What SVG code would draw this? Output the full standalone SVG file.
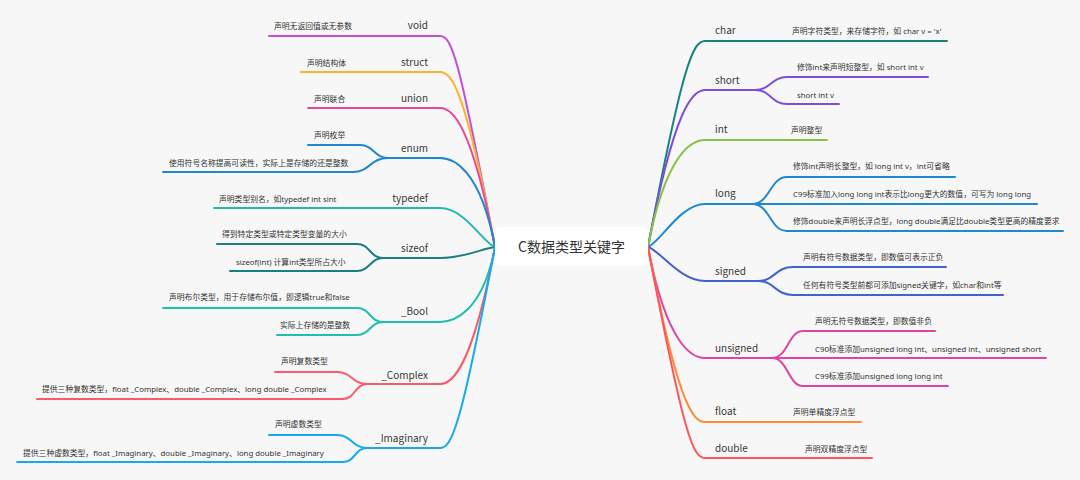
<svg xmlns="http://www.w3.org/2000/svg" width="1080" height="480" viewBox="0 0 1080 480">
<style>
.bg{fill:#f7f7f7}
.root{fill:#ffffff}
.rt{font-family:"Noto Sans CJK SC","Noto Sans",sans-serif;font-size:14px;fill:#333}
.lb{font-family:"Noto Sans CJK SC","Noto Sans",sans-serif;font-size:10px;fill:#383838}
.ch{font-family:"Noto Sans","Noto Sans CJK SC",sans-serif;font-size:7.8px;fill:#333}
.e{text-anchor:end}
path{fill:none;stroke-width:2;stroke-linecap:round}
.c1{stroke:#c34fd3}.c2{stroke:#fdb22b}.c3{stroke:#e8479b}.c4{stroke:#1f87cf}.c5{stroke:#22bba9}
.c6{stroke:#1a7f7f}.c7{stroke:#1fbfae}.c8{stroke:#fa5a6a}.c9{stroke:#15aaf0}
.r1{stroke:#168383}.r2{stroke:#7d4fd8}.r3{stroke:#86c346}.r4{stroke:#1e88d0}.r5{stroke:#4163cf}
.r6{stroke:#df45a0}.r7{stroke:#ff8b36}.r8{stroke:#ff5459}
</style>
<rect class="bg" x="0" y="0" width="1080" height="480"/>
<g id="connectors">
<path class="c1" d="M495,247 C458.9,57.1 452,36 440,36"/>
<path class="c2" d="M495,247 C465.1,89.5 452,72 440,72"/>
<path class="c3" d="M495,247 C471.2,121.9 452,108 440,108"/>
<path class="c4" d="M495,247 C479.8,166.9 452,158 440,158"/>
<path class="c5" d="M495,247 C483,243.1 465,208 440,208"/>
<path class="c6" d="M495,247 C483,248.1 465,258 440,258"/>
<path class="c7" d="M495,247 C482.2,314.5 452,322 440,322"/>
<path class="c8" d="M495,247 C471.6,370.3 452,384 440,384"/>
<path class="c9" d="M495,247 C460.6,427.9 452,448 440,448"/>
<path class="r1" d="M648,247 C683.2,61.6 693,41 705,41"/>
<path class="r2" d="M648,247 C674.8,105.7 693,90 705,90"/>
<path class="r3" d="M648,247 C666.3,150.7 693,140 705,140"/>
<path class="r4" d="M648,247 C660,242.7 680,204 705,204"/>
<path class="r5" d="M648,247 C660,250.4 680,281 705,281"/>
<path class="r6" d="M648,247 C667,346.9 693,358 705,358"/>
<path class="r7" d="M648,247 C677.9,404.5 693,422 705,422"/>
<path class="r8" d="M648,247 C684.1,436.9 693,458 705,458"/>
<path class="c4" d="M388,158 C374,158 374,145 360,145"/>
<path class="c4" d="M388,158 C370,158 370,172 353,172"/>
<path class="c6" d="M383,258 C370,258 370,244 357,244"/>
<path class="c6" d="M383,258 C370,258 370,271 357,271"/>
<path class="c7" d="M383,322 C370,322 370,308 357,308"/>
<path class="c7" d="M383,322 C370,322 370,335 357,335"/>
<path class="c8" d="M367,384 C352,384 352,372 337,372"/>
<path class="c8" d="M367,384 C355,384 355,399 343,399"/>
<path class="c9" d="M367,448 C352,448 352,435 337,435"/>
<path class="c9" d="M367,448 C355,448 355,462 343,462"/>
<path class="r2" d="M755,90 C771,90 771,77 787,77"/>
<path class="r2" d="M755,90 C771,90 771,104 787,104"/>
<path class="r4" d="M752,204 C770,204 770,177 787,177"/>
<path class="r4" d="M752,204 C770,204 770,231 787,231"/>
<path class="r5" d="M758,281 C775,281 775,267 793,267"/>
<path class="r5" d="M758,281 C775,281 775,295 793,295"/>
<path class="r6" d="M772,358 C788,358 788,331 803,331"/>
<path class="r6" d="M772,358 C788,358 788,386 803,386"/>
</g>
<g id="root">
<rect class="root" x="495" y="227" width="153" height="39" rx="5"/>
<text class="rt" x="571.5" y="252" text-anchor="middle">C数据类型关键字</text>
</g>
<g id="n-void"><path class="c1" d="M398,36 H440"/><text class="lb e" x="428" y="29">void</text></g>
<g id="n-void-1"><path class="c1" d="M269,36 H398"/><text class="ch" x="274" y="29">声明无返回值或无参数</text></g>
<g id="n-struct"><path class="c2" d="M398,72 H440"/><text class="lb e" x="428" y="66">struct</text></g>
<g id="n-struct-1"><path class="c2" d="M301,72 H398"/><text class="ch" x="307" y="66">声明结构体</text></g>
<g id="n-union"><path class="c3" d="M398,108 H440"/><text class="lb e" x="428" y="102">union</text></g>
<g id="n-union-1"><path class="c3" d="M308,108 H398"/><text class="ch" x="314" y="102">声明联合</text></g>
<g id="n-enum"><path class="c4" d="M388,158 H440"/><text class="lb e" x="428" y="152">enum</text></g>
<g id="n-enum-1"><path class="c4" d="M308,145 H360"/><text class="ch" x="314" y="138">声明枚举</text></g>
<g id="n-enum-2"><path class="c4" d="M163,172 H353"/><text class="ch" x="169" y="166">使用符号名称提高可读性，实际上是存储的还是整数</text></g>
<g id="n-typedef"><path class="c5" d="M390,208 H440"/><text class="lb e" x="428" y="202">typedef</text></g>
<g id="n-typedef-1"><path class="c5" d="M214,208 H390"/><text class="ch" x="219" y="202">声明类型别名，如typedef int sint</text></g>
<g id="n-sizeof"><path class="c6" d="M383,258 H440"/><text class="lb e" x="428" y="252">sizeof</text></g>
<g id="n-sizeof-1"><path class="c6" d="M217,244 H357"/><text class="ch" x="222" y="237">得到特定类型或特定类型变量的大小</text></g>
<g id="n-sizeof-2"><path class="c6" d="M230,271 H357"/><text class="ch" x="236" y="265">sizeof(int) 计算int类型所占大小</text></g>
<g id="n-bool"><path class="c7" d="M383,322 H440"/><text class="lb e" x="428" y="315">_Bool</text></g>
<g id="n-bool-1"><path class="c7" d="M163,308 H357"/><text class="ch" x="169" y="300">声明布尔类型，用于存储布尔值，即逻辑true和false</text></g>
<g id="n-bool-2"><path class="c7" d="M277,335 H357"/><text class="ch" x="280" y="328">实际上存储的是整数</text></g>
<g id="n-complex"><path class="c8" d="M367,384 H440"/><text class="lb e" x="428" y="379">_Complex</text></g>
<g id="n-complex-1"><path class="c8" d="M275,372 H337"/><text class="ch" x="281" y="364">声明复数类型</text></g>
<g id="n-complex-2"><path class="c8" d="M37,399 H343"/><text class="ch" x="42" y="392">提供三种复数类型，float _Complex、double _Complex、long double _Complex</text></g>
<g id="n-imaginary"><path class="c9" d="M367,448 H440"/><text class="lb e" x="428" y="442">_Imaginary</text></g>
<g id="n-imaginary-1"><path class="c9" d="M269,435 H337"/><text class="ch" x="275" y="427">声明虚数类型</text></g>
<g id="n-imaginary-2"><path class="c9" d="M17,462 H343"/><text class="ch" x="23" y="456">提供三种虚数类型，float _Imaginary、double _Imaginary、long double _Imaginary</text></g>
<g id="n-char"><path class="r1" d="M705,41 H760"/><text class="lb" x="715" y="34">char</text></g>
<g id="n-char-1"><path class="r1" d="M760,41 H947"/><text class="ch" x="792" y="34">声明字符类型，来存储字符，如 char v = 'x'</text></g>
<g id="n-short"><path class="r2" d="M705,90 H755"/><text class="lb" x="715" y="84">short</text></g>
<g id="n-short-1"><path class="r2" d="M787,77 H928"/><text class="ch" x="797" y="70">修饰int来声明短整型，如 short int v</text></g>
<g id="n-short-2"><path class="r2" d="M787,104 H839"/><text class="ch" x="797" y="98">short int v</text></g>
<g id="n-int"><path class="r3" d="M705,140 H760"/><text class="lb" x="715" y="133">int</text></g>
<g id="n-int-1"><path class="r3" d="M760,140 H827"/><text class="ch" x="791" y="133">声明整型</text></g>
<g id="n-long"><path class="r4" d="M705,204 H752"/><text class="lb" x="715" y="197">long</text></g>
<g id="n-long-1"><path class="r4" d="M787,177 H955"/><text class="ch" x="793" y="169">修饰int声明长整型，如 long int v，int可省略</text></g>
<g id="n-long-2"><path class="r4" d="M752,204 H1037"/><text class="ch" x="793" y="197">C99标准加入long long int表示比long更大的数值，可写为 long long</text></g>
<g id="n-long-3"><path class="r4" d="M787,231 H1063"/><text class="ch" x="793" y="224">修饰double来声明长浮点型，long double满足比double类型更高的精度要求</text></g>
<g id="n-signed"><path class="r5" d="M705,281 H758"/><text class="lb" x="715" y="275">signed</text></g>
<g id="n-signed-1"><path class="r5" d="M793,267 H946"/><text class="ch" x="803" y="260">声明有符号数据类型，即数值可表示正负</text></g>
<g id="n-signed-2"><path class="r5" d="M793,295 H1003"/><text class="ch" x="803" y="288">任何有符号类型前都可添加signed关键字，如char和int等</text></g>
<g id="n-unsigned"><path class="r6" d="M705,358 H772"/><text class="lb" x="715" y="352">unsigned</text></g>
<g id="n-unsigned-1"><path class="r6" d="M803,331 H935"/><text class="ch" x="815" y="324">声明无符号数据类型，即数值非负</text></g>
<g id="n-unsigned-2"><path class="r6" d="M772,358 H1046"/><text class="ch" x="815" y="352">C90标准添加unsigned long int、unsigned int、unsigned short</text></g>
<g id="n-unsigned-3"><path class="r6" d="M803,386 H948"/><text class="ch" x="815" y="379">C99标准添加unsigned long long int</text></g>
<g id="n-float"><path class="r7" d="M705,422 H760"/><text class="lb" x="715" y="415">float</text></g>
<g id="n-float-1"><path class="r7" d="M760,422 H861"/><text class="ch" x="793" y="415">声明单精度浮点型</text></g>
<g id="n-double"><path class="r8" d="M705,458 H760"/><text class="lb" x="715" y="452">double</text></g>
<g id="n-double-1"><path class="r8" d="M760,458 H872"/><text class="ch" x="805" y="452">声明双精度浮点型</text></g>
</svg>
